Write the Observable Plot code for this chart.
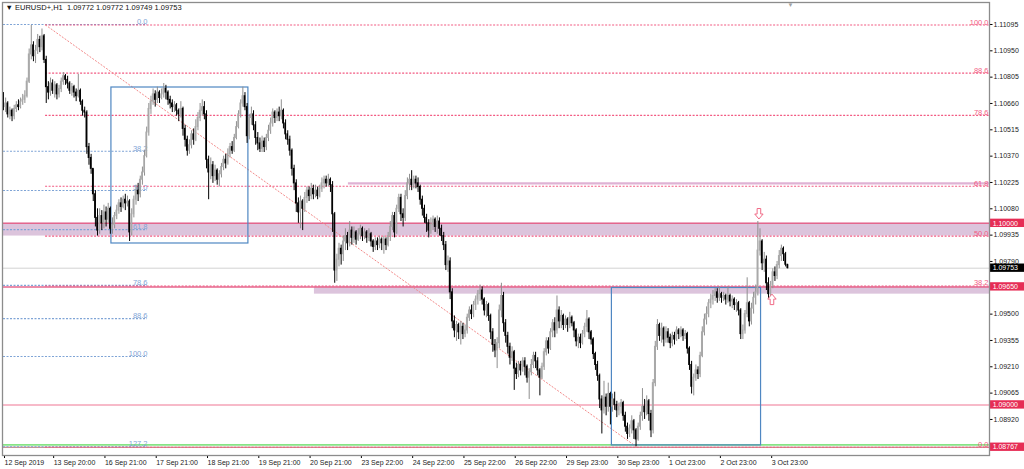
<!DOCTYPE html>
<html><head><meta charset="utf-8">
<script src="https://cdn.jsdelivr.net/npm/d3@7"></script>
<script src="https://cdn.jsdelivr.net/npm/@observablehq/plot@0.6"></script>
<style>html,body{margin:0;padding:0;background:#fff;}#chart{width:1024px;height:469px;overflow:hidden;}</style>
</head><body><div id="chart"></div>
<script>
// ---- Data (EURUSD+, H1, one value per hourly bar) ----
const firstOpen = 1.1068;
const closes = [
1.1064,1.1066,1.1060,1.1062,1.1059,1.1063,1.1065,1.1064,1.1067,1.1068,
1.1070,1.1078,1.1093,1.1098,1.1092,1.1095,1.1101,1.1097,1.1103,1.1090,
1.1075,1.1072,1.1077,1.1073,1.1076,1.1071,1.1074,1.1078,1.1081,1.1079,
1.1077,1.1073,1.1075,1.1072,1.1070,1.1073,1.1067,1.1062,1.1061,1.1042,
1.1036,1.1030,1.1016,1.1003,1.0996,1.1004,1.1000,1.1006,1.1002,1.1008,
1.0997,1.0999,1.1004,1.1007,1.1011,1.1009,1.1013,1.1011,1.1012,1.0995,
1.1005,1.1013,1.1018,1.1016,1.1024,1.1028,1.1037,1.1050,1.1063,1.1067,
1.1071,1.1068,1.1072,1.1069,1.1071,1.1074,1.1072,1.1068,1.1066,1.1064,
1.1065,1.1062,1.1060,1.1063,1.1052,1.1046,1.1040,1.1043,1.1049,1.1046,
1.1053,1.1058,1.1062,1.1064,1.1060,1.1035,1.1028,1.1032,1.1026,1.1029,
1.1024,1.1027,1.1031,1.1035,1.1033,1.1038,1.1042,1.1040,1.1047,1.1053,
1.1060,1.1066,1.1070,1.1064,1.1048,1.1058,1.1060,1.1054,1.1047,1.1044,
1.1041,1.1045,1.1042,1.1047,1.1051,1.1055,1.1061,1.1058,1.1061,1.1059,
1.1062,1.1055,1.1049,1.1046,1.1040,1.1030,1.1022,1.1011,1.1006,1.1012,
1.1008,1.1014,1.1018,1.1015,1.1019,1.1016,1.1018,1.1015,1.1019,1.1022,
1.1024,1.1022,1.1024,1.1021,1.1005,1.0974,1.0980,1.0986,1.0983,1.0990,
1.0993,1.0989,1.0996,1.0992,1.0995,1.0991,1.0994,1.0997,1.0993,1.0995,
1.0992,1.0994,1.0990,1.0987,1.0990,1.0988,1.0991,1.0989,1.0991,1.0988,
1.0993,1.0998,1.1004,1.0995,1.1008,1.1014,1.1005,1.1003,1.1015,1.1022,
1.1024,1.1021,1.1024,1.1022,1.1020,1.1013,1.1008,1.1003,1.1000,1.0996,
1.0999,1.1002,1.0998,1.1001,1.0997,1.0993,1.0988,1.0977,1.0979,1.0962,
1.0946,1.0941,1.0944,1.0940,1.0943,1.0939,1.0941,1.0948,1.0952,1.0950,
1.0955,1.0958,1.0961,1.0963,1.0958,1.0952,1.0955,1.0949,1.0940,1.0933,
1.0930,1.0934,1.0952,1.0960,1.0945,1.0938,1.0932,1.0926,1.0929,1.0920,
1.0917,1.0922,1.0919,1.0924,1.0921,1.0915,1.0918,1.0922,1.0927,1.0924,
1.0919,1.0915,1.0921,1.0929,1.0935,1.0931,1.0940,1.0945,1.0941,1.0952,
1.0946,1.0949,1.0944,1.0947,1.0944,1.0948,1.0945,1.0941,1.0935,1.0937,
1.0934,1.0939,1.0943,1.0947,1.0940,1.0936,1.0928,1.0922,1.0916,1.0903,
1.0897,1.0904,1.0899,1.0906,1.0899,1.0903,1.0900,1.0897,1.0899,1.0901,
1.0894,1.0888,1.0884,1.0887,1.0891,1.0886,1.0881,1.0888,1.0894,1.0899,
1.0896,1.0902,1.0895,1.0886,1.0912,1.0932,1.0944,1.0938,1.0942,1.0936,
1.0940,1.0937,1.0934,1.0938,1.0936,1.0941,1.0939,1.0941,1.0938,1.0939,
1.0931,1.0922,1.0910,1.0915,1.0919,1.0917,1.0927,1.0940,1.0947,1.0950,
1.0956,1.0958,1.0960,1.0962,1.0959,1.0961,1.0959,1.0960,1.0958,1.0960,
1.0957,1.0958,1.0955,1.0956,1.0952,1.0939,1.0941,1.0950,1.0956,1.0946,
1.0953,1.0959,1.0962,1.0985,1.0990,1.0978,1.0980,1.0967,1.0961,1.0966,
1.0973,1.0971,1.0977,1.0982,1.0986,1.0983,1.09772,1.09753];
const highs = [
1.1072,1.1069,1.1067,1.1064,1.1063,1.1065,1.1067,1.1068,1.1069,1.1071,
1.1073,1.1080,1.1096,1.1109,1.1100,1.1098,1.1104,1.1103,1.1107,1.1104,
1.1092,1.1078,1.1080,1.1079,1.1078,1.1077,1.1076,1.1080,1.1083,1.1082,
1.1081,1.1078,1.1077,1.1076,1.1074,1.1082,1.1074,1.1068,1.1064,1.1062,
1.1044,1.1038,1.1030,1.1018,1.1008,1.1008,1.1007,1.1010,1.1009,1.1011,
1.1009,1.1003,1.1006,1.1010,1.1013,1.1014,1.1015,1.1016,1.1015,1.1013,
1.1008,1.1015,1.1021,1.1022,1.1026,1.1031,1.1040,1.1053,1.1066,1.1070,
1.1074,1.1073,1.1075,1.1073,1.1074,1.1077,1.1076,1.1073,1.1070,1.1068,
1.1067,1.1066,1.1063,1.1067,1.1064,1.1054,1.1048,1.1046,1.1051,1.1052,
1.1057,1.1061,1.1066,1.1068,1.1067,1.1062,1.1037,1.1036,1.1034,1.1032,
1.1030,1.1029,1.1033,1.1037,1.1038,1.1041,1.1044,1.1045,1.1049,1.1056,
1.1062,1.1068,1.1075,1.1072,1.1066,1.1060,1.1064,1.1062,1.1056,1.1050,
1.1047,1.1048,1.1047,1.1049,1.1054,1.1058,1.1063,1.1062,1.1063,1.1064,
1.1068,1.1063,1.1057,1.1051,1.1048,1.1041,1.1032,1.1024,1.1014,1.1015,
1.1013,1.1017,1.1020,1.1020,1.1022,1.1021,1.1021,1.1020,1.1021,1.1025,
1.1026,1.1026,1.1027,1.1025,1.1023,1.1006,1.0983,1.0989,1.0988,1.0993,
1.0997,1.0995,1.1001,1.0998,1.0998,1.0996,1.0997,1.0999,1.0998,1.0997,
1.0996,1.0997,1.0995,1.0991,1.0992,1.0992,1.0993,1.0992,1.0993,1.0992,
1.0995,1.1001,1.1006,1.1006,1.1010,1.1016,1.1016,1.1008,1.1018,1.1025,
1.1027,1.1029,1.1026,1.1026,1.1025,1.1021,1.1015,1.1010,1.1005,1.1002,
1.1003,1.1004,1.1003,1.1004,1.1003,1.0999,1.0995,1.0990,1.0982,1.0981,
1.0964,1.0949,1.0946,1.0945,1.0946,1.0945,1.0944,1.0950,1.0954,1.0955,
1.0957,1.0960,1.0963,1.0966,1.0965,1.0959,1.0957,1.0956,1.0950,1.0942,
1.0936,1.0937,1.0955,1.0967,1.0962,1.0947,1.0940,1.0934,1.0932,1.0930,
1.0923,1.0924,1.0924,1.0926,1.0926,1.0922,1.0920,1.0925,1.0929,1.0929,
1.0926,1.0920,1.0923,1.0931,1.0937,1.0937,1.0942,1.0947,1.0948,1.0960,
1.0954,1.0952,1.0950,1.0949,1.0948,1.0951,1.0949,1.0946,1.0942,1.0939,
1.0939,1.0941,1.0945,1.0952,1.0948,1.0941,1.0937,1.0929,1.0924,1.0917,
1.0905,1.0913,1.0906,1.0912,1.0907,1.0906,1.0907,1.0902,1.0901,1.0903,
1.0902,1.0896,1.0890,1.0889,1.0894,1.0892,1.0887,1.0890,1.0896,1.0909,
1.0903,1.0905,1.0903,1.0897,1.0914,1.0935,1.0947,1.0945,1.0945,1.0943,
1.0943,1.0942,1.0939,1.0940,1.0940,1.0943,1.0942,1.0943,1.0942,1.0941,
1.0940,1.0932,1.0924,1.0917,1.0922,1.0921,1.0929,1.0943,1.0950,1.0954,
1.0958,1.0961,1.0963,1.0964,1.0964,1.0965,1.0962,1.0962,1.0961,1.0965,
1.0961,1.0960,1.0959,1.0958,1.0957,1.0953,1.0944,1.0952,1.0970,1.0957,
1.0956,1.0962,1.0966,1.1001,1.0997,1.0991,1.0984,1.0982,1.0970,1.0968,
1.0975,1.0976,1.0979,1.0985,1.0988,1.0987,1.0984,1.09772];
const lows = [
1.1062,1.1061,1.1058,1.1057,1.1056,1.1057,1.1061,1.1062,1.1063,1.1065,
1.1066,1.1069,1.1077,1.1090,1.1089,1.1088,1.1093,1.1094,1.1095,1.1088,
1.1066,1.1068,1.1070,1.1071,1.1069,1.1068,1.1069,1.1072,1.1076,1.1076,
1.1074,1.1071,1.1070,1.1069,1.1067,1.1069,1.1065,1.1059,1.1058,1.1038,
1.1032,1.1027,1.1012,1.0998,1.0993,1.0994,1.0996,1.0997,1.0998,1.1000,
1.0994,1.0994,1.0997,1.1002,1.1005,1.1006,1.1008,1.1007,1.1009,1.0990,
1.0993,1.1003,1.1010,1.1012,1.1014,1.1021,1.1026,1.1036,1.1048,1.1060,
1.1065,1.1064,1.1066,1.1066,1.1068,1.1069,1.1068,1.1065,1.1063,1.1061,
1.1061,1.1059,1.1056,1.1058,1.1048,1.1042,1.1037,1.1038,1.1041,1.1043,
1.1045,1.1051,1.1056,1.1059,1.1057,1.1030,1.1013,1.1024,1.1022,1.1023,
1.1021,1.1020,1.1025,1.1029,1.1030,1.1032,1.1036,1.1038,1.1039,1.1046,
1.1052,1.1058,1.1064,1.1062,1.1044,1.1046,1.1054,1.1051,1.1043,1.1040,
1.1039,1.1039,1.1039,1.1040,1.1045,1.1049,1.1053,1.1055,1.1056,1.1056,
1.1057,1.1052,1.1046,1.1043,1.1037,1.1026,1.1018,1.1006,1.1000,1.0997,
1.0996,1.1006,1.1011,1.1012,1.1013,1.1013,1.1014,1.1013,1.1014,1.1017,
1.1019,1.1020,1.1020,1.1017,1.0995,1.0967,1.0968,1.0976,1.0977,1.0979,
1.0985,1.0985,1.0987,1.0988,1.0989,1.0988,1.0990,1.0991,1.0990,1.0991,
1.0989,1.0990,1.0987,1.0984,1.0985,1.0985,1.0986,1.0985,1.0983,1.0985,
1.0987,1.0990,1.0996,1.0992,1.0994,1.1006,1.1001,1.0998,1.1001,1.1013,
1.1018,1.1018,1.1019,1.1019,1.1017,1.1010,1.1004,1.1000,1.0995,1.0992,
1.0994,1.0996,1.0995,1.0994,1.0993,1.0990,1.0985,1.0974,1.0973,1.0958,
1.0942,1.0937,1.0935,1.0936,1.0933,1.0936,1.0937,1.0939,1.0946,1.0947,
1.0948,1.0952,1.0955,1.0957,1.0955,1.0949,1.0948,1.0946,1.0936,1.0929,
1.0926,1.0920,1.0931,1.0948,1.0940,1.0934,1.0928,1.0922,1.0924,1.0908,
1.0914,1.0915,1.0916,1.0918,1.0916,1.0912,1.0903,1.0916,1.0920,1.0920,
1.0916,1.0905,1.0914,1.0919,1.0927,1.0928,1.0930,1.0937,1.0937,1.0939,
1.0942,1.0942,1.0941,1.0942,1.0940,1.0942,1.0943,1.0937,1.0932,1.0931,
1.0931,1.0933,1.0937,1.0940,1.0936,1.0933,1.0925,1.0919,1.0913,1.0898,
1.0884,1.0895,1.0894,1.0896,1.0889,1.0896,1.0897,1.0893,1.0894,1.0895,
1.0891,1.0885,1.0881,1.0882,1.0884,1.0881,1.0877,1.0880,1.0886,1.0891,
1.0892,1.0894,1.0891,1.0882,1.0884,1.0910,1.0930,1.0935,1.0934,1.0932,
1.0934,1.0934,1.0931,1.0932,1.0933,1.0935,1.0936,1.0937,1.0935,1.0936,
1.0928,1.0919,1.0906,1.0905,1.0913,1.0914,1.0915,1.0926,1.0938,1.0944,
1.0948,1.0953,1.0955,1.0957,1.0956,1.0957,1.0956,1.0957,1.0955,1.0956,
1.0954,1.0953,1.0952,1.0951,1.0949,1.0936,1.0936,1.0939,1.0948,1.0943,
1.0944,1.0950,1.0955,1.0960,1.0982,1.0974,1.0973,1.0963,1.0958,1.0959,
1.0964,1.0968,1.0969,1.0975,1.0979,1.0979,1.0976,1.09749];

const xTickBars = [0,23,47,71,95,119,143,167,191,215,239,263,287,311,335,359];
const xTickLabels = ["12 Sep 2019","13 Sep 20:00","16 Sep 21:00","17 Sep 21:00","18 Sep 21:00","19 Sep 21:00","20 Sep 21:00","23 Sep 22:00","24 Sep 22:00","25 Sep 22:00","26 Sep 22:00","29 Sep 23:00","30 Sep 23:00","1 Oct 23:00","2 Oct 23:00","3 Oct 23:00"];
const yTickValues = [1.11095,1.10950,1.10805,1.10660,1.10515,1.10370,1.10225,1.10080,1.09935,1.09790,1.09500,1.09355,1.09210,1.09065,1.08920];
const markedPrices = [1.10000,1.09753,1.09650,1.09000,1.08767];
const markedKinds  = ["level","bid","level","level","level"];

// Fibonacci tools
const redFibHigh = 1.11092, redFibLow = 1.08767, redFibStartBar = 19.7, redFibEndBar = 296.5;
const redFibRatios = [0,38.2,50,61.8,78.6,88.6,100];
const blueFibTop = 1.11095, blueFibBottom = 1.09267, blueFibEndBar = 67.4;
const blueFibRatios = [0,38.2,50,61.8,78.6,88.6,100,127.2];

// Drawn objects
const boxBar1 = [50.5, 284.7], boxBar2 = [114.6, 354.5];
const boxTop = [1.10748, 1.09644], boxBottom = [1.09889, 1.08777];
const zoneStartBar = [null, 145.5], zoneLow = [1.0993, 1.0961], zoneHigh = [1.1000, 1.0965];
const strongLines = [1.1000, 1.0965];
const lightLine = 1.0900;
const resistancePrice = 1.1022, resistanceStartBar = 161.4;
const bidPrice = 1.09753;
const greenLinePrice = 1.08780;
const arrowBars = [353.5, 359.6], arrowPrices = [1.10054, 1.09580], arrowDirs = ["down","up"];
const titleText = "▼ EURUSD+,H1  1.09772 1.09772 1.09749 1.09753";

// ---- Build ----
const XMIN = -0.47, XMAX = 461.4;
const YMIN = 1.087215, YMAX = 1.112161;

const bars = closes.map((c, i) => {
  const o = i === 0 ? firstOpen : closes[i - 1];
  return {i, o, c, h: Math.max(highs[i], o, c), l: Math.min(lows[i], o, c), up: c >= o};
});
const redLevels = redFibRatios.map(r => ({price: redFibLow + r / 100 * (redFibHigh - redFibLow), label: r.toFixed(1)}));
const blueLevels = blueFibRatios.map(r => ({price: blueFibTop - r / 100 * (blueFibTop - blueFibBottom), label: r.toFixed(1)}));
const boxes = boxBar1.map((b, k) => ({b1: b, b2: boxBar2[k], p1: boxTop[k], p2: boxBottom[k]}));
const zones = zoneLow.map((p, k) => ({b1: zoneStartBar[k] ?? XMIN, p1: p, p2: zoneHigh[k]}));
const marked = markedPrices.map((p, k) => ({price: p, kind: markedKinds[k]}));
const arrows = arrowBars.map((b, k) => ({bar: b, price: arrowPrices[k], dir: arrowDirs[k]}));
const labelOf = new Map(xTickBars.map((b, k) => [b, xTickLabels[k]]));

// hollow arrow symbols
function arrowSymbol(sign) {
  return {draw(ctx) {
    const pts = [[-1.8,-5],[1.8,-5],[1.8,0.5],[4.2,0.5],[0,5.5],[-4.2,0.5],[-1.8,0.5]];
    ctx.moveTo(pts[0][0], sign * pts[0][1]);
    for (let k = 1; k < pts.length; k++) ctx.lineTo(pts[k][0], sign * pts[k][1]);
    ctx.closePath();
  }};
}

const PINK = "#f25a82", BLUE = "#7fa4d6";

const chart = Plot.plot({
  width: 1024, height: 469,
  marginLeft: 2, marginRight: 35, marginTop: 2, marginBottom: 14,
  x: {domain: [XMIN, XMAX]},
  y: {domain: [YMIN, YMAX]},
  style: {fontFamily: "'Liberation Sans', Arial, sans-serif", fontSize: "7px", background: "#fff", overflow: "visible"},
  marks: [
    // zones
    Plot.rect(zones, {x1: "b1", x2: XMAX, y1: "p1", y2: "p2", fill: "#dcc4dc"}),
    // horizontal lines
    Plot.ruleY([bidPrice], {x1: XMIN, x2: XMAX, stroke: "#d2d2d2", strokeWidth: 1}),
    Plot.ruleY([resistancePrice], {x1: resistanceStartBar, x2: XMAX, stroke: "#dfb2d4", strokeWidth: 2.4}),
    Plot.ruleY(strongLines, {x1: XMIN, x2: XMAX, stroke: "#e4668d", strokeWidth: 1.5}),
    Plot.ruleY([lightLine], {x1: XMIN, x2: XMAX, stroke: "#f5a3b7", strokeWidth: 1.5}),
    Plot.ruleY([greenLinePrice], {x1: XMIN, x2: XMAX, stroke: "#86e486", strokeWidth: 1.8}),
    Plot.ruleY([redFibLow], {x1: XMIN, x2: XMAX, stroke: "#b86a6a", strokeWidth: 1}),
    // fib tools
    Plot.ruleY(blueLevels, {y: "price", x1: 0, x2: blueFibEndBar, stroke: BLUE, strokeWidth: 1.1, strokeDasharray: "2,1.5"}),
    Plot.text(blueLevels, {x: blueFibEndBar, y: "price", text: "label", textAnchor: "end", lineAnchor: "bottom", dy: -0.5, fill: BLUE, fontSize: 7.5}),
    Plot.ruleY(redLevels, {y: "price", x1: redFibStartBar, x2: XMAX, stroke: PINK, strokeWidth: 1.1, strokeDasharray: "2,1.5"}),
    Plot.text(redLevels, {x: XMAX, y: "price", text: "label", textAnchor: "end", lineAnchor: "bottom", dx: -1, dy: -0.5, fill: PINK, fontSize: 7.5}),
    Plot.line([{b: redFibStartBar, p: redFibHigh}, {b: redFibEndBar, p: redFibLow}], {x: "b", y: "p", stroke: "#f38a8a", strokeWidth: 1, strokeDasharray: "1.2,2.2"}),
    // rectangles
    Plot.rect(boxes, {x1: "b1", x2: "b2", y1: "p1", y2: "p2", fill: "none", stroke: "#4f87c2", strokeWidth: 1.2}),
    // candles
    Plot.ruleX(bars, {x: "i", y1: "l", y2: "h", stroke: d => d.up ? "#8f8f8f" : "#000", strokeWidth: 1}),
    Plot.rect(bars, {x1: d => d.i - 0.38, x2: d => d.i + 0.38, y1: "o", y2: "c", fill: d => d.up ? "#a9a9a9" : "#000", insetTop: -0.5, insetBottom: -0.5}),
    // arrows
    Plot.dot(arrows.filter(d => d.dir === "down"), {x: "bar", y: "price", symbol: arrowSymbol(1), r: 5, stroke: "#f06a86", fill: "#fff", strokeWidth: 1}),
    Plot.dot(arrows.filter(d => d.dir === "up"), {x: "bar", y: "price", symbol: arrowSymbol(-1), r: 5, stroke: "#f06a86", fill: "#fff", strokeWidth: 1}),
    // title & shift marker
    Plot.text([titleText], {text: d => d, frameAnchor: "top-left", dx: 3, dy: 2, lineAnchor: "top", textAnchor: "start", fill: "#111", fontSize: 7.5}),
    Plot.text(["▼"], {text: d => d, x: 368.3, frameAnchor: "top", lineAnchor: "top", dy: 0, fill: "#a0a0a0", fontSize: 6}),
    // axes
    Plot.axisY({ticks: yTickValues, anchor: "right", tickFormat: d => d.toFixed(5), tickSize: 2.5, tickPadding: 1.5, fill: "#222", fontSize: 7}),
    Plot.axisX({ticks: xTickBars, anchor: "bottom", tickFormat: d => labelOf.get(d), tickSize: 3, tickPadding: 1.5, textAnchor: "start", dx: 1, fill: "#222", fontSize: 7}),
    Plot.rect(marked, {x1: XMAX + 0.3, x2: XMAX + 16.6, y1: d => d.price - 0.00023, y2: d => d.price + 0.00023, fill: d => d.kind === "bid" ? "#000" : "#e62d55"}),
    Plot.text(marked, {x: XMAX + 0.3, y: "price", text: d => d.price.toFixed(5), dx: 2.5, textAnchor: "start", fill: "#fff", fontSize: 7}),
    Plot.frame({stroke: "#8c8c8c", strokeWidth: 1.3})
  ]
});
document.getElementById("chart").appendChild(chart);
</script>
</body></html>
